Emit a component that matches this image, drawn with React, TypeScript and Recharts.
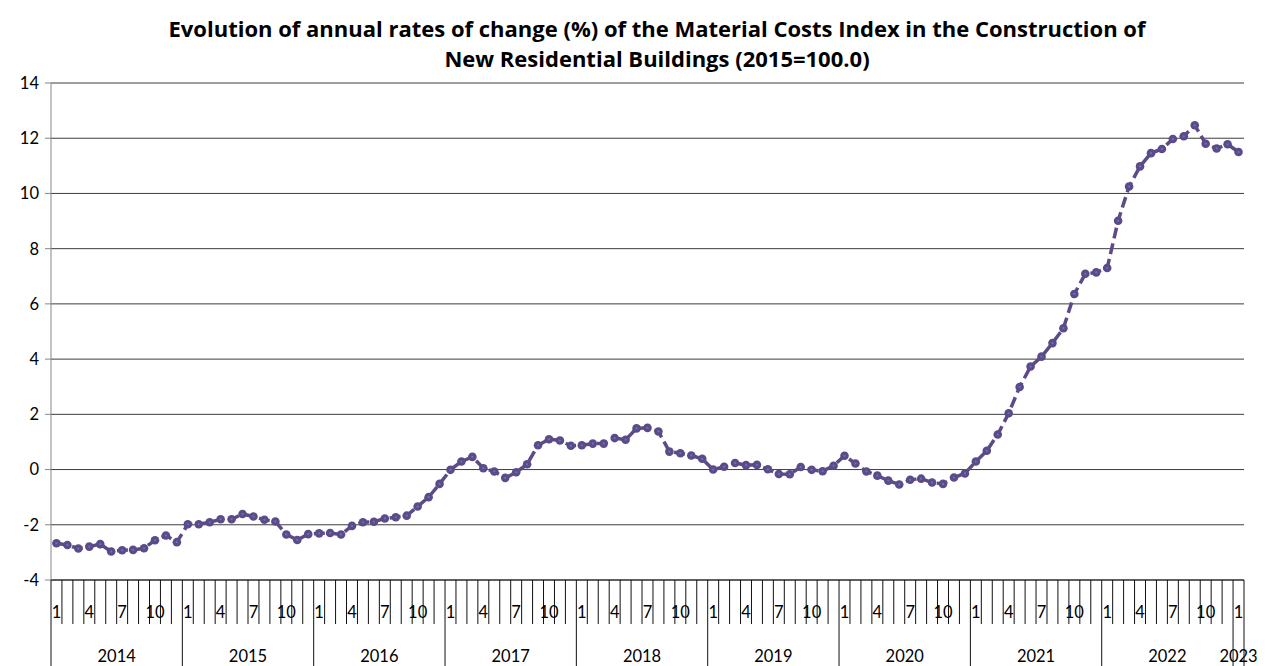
import { LineChart, Line, CartesianGrid, XAxis, YAxis } from 'recharts'

// annual rate of change (%) per month, Jan..Dec
const rate2014 = [-2.67, -2.73, -2.86, -2.79, -2.7, -2.97, -2.92, -2.91, -2.85, -2.56, -2.39, -2.63]
const rate2015 = [-1.98, -1.98, -1.91, -1.8, -1.8, -1.61, -1.7, -1.82, -1.88, -2.35, -2.55, -2.34]
const rate2016 = [-2.31, -2.3, -2.35, -2.04, -1.91, -1.89, -1.77, -1.73, -1.67, -1.34, -1.0, -0.52]
const rate2017 = [-0.01, 0.29, 0.46, 0.05, -0.07, -0.3, -0.1, 0.19, 0.88, 1.1, 1.05, 0.86]
const rate2018 = [0.88, 0.94, 0.94, 1.14, 1.08, 1.49, 1.51, 1.38, 0.65, 0.59, 0.51, 0.39]
const rate2019 = [0.0, 0.1, 0.24, 0.16, 0.17, 0.01, -0.16, -0.17, 0.09, -0.01, -0.06, 0.14]
const rate2020 = [0.5, 0.22, -0.07, -0.22, -0.4, -0.54, -0.37, -0.33, -0.47, -0.52, -0.29, -0.14]
const rate2021 = [0.29, 0.68, 1.27, 2.04, 2.99, 3.73, 4.09, 4.58, 5.12, 6.36, 7.09, 7.14]
const rate2022 = [7.3, 9.01, 10.25, 10.98, 11.46, 11.61, 11.97, 12.07, 12.47, 11.8, 11.63, 11.78]
const rate2023 = [11.5]

const years = ['2014', '2015', '2016', '2017', '2018', '2019', '2020', '2021', '2022', '2023']
const ratesByYear = [rate2014, rate2015, rate2016, rate2017, rate2018, rate2019, rate2020, rate2021, rate2022, rate2023]
const labelledMonths = [1, 4, 7, 10]
const yTicks = [-4, -2, 0, 2, 4, 6, 8, 10, 12, 14]

const title1 = 'Evolution of annual rates of change (%) of the Material Costs Index in the Construction of'
const title2 = 'New Residential Buildings (2015=100.0)'

const LINE = '#5D4A88'
const FONT = 'Lato, "Noto Sans", sans-serif'
const TITLE_FONT = '"Open Sans", "Noto Sans", sans-serif'

type Row = { t: number; month: number; year: string; rate: number }

const data: Row[] = []
ratesByYear.forEach((vals, yi) => {
  vals.forEach((rate, mi) => {
    data.push({ t: data.length, month: mi + 1, year: years[yi], rate })
  })
})

const n = data.length
const monthLabelAt = new Map<number, string>()
data.forEach((d) => {
  if (labelledMonths.includes(d.month)) monthLabelAt.set(d.t, String(d.month))
})
const monthBounds = Array.from({ length: n + 1 }, (_, i) => i - 0.5)

const yearLabelAt = new Map<number, string>()
const yearBounds: number[] = [-0.5]
let start = 0
ratesByYear.forEach((vals, yi) => {
  const end = start + vals.length
  yearLabelAt.set((start + end - 1) / 2, years[yi])
  yearBounds.push(end - 0.5)
  start = end
})

const MonthTick = (props: any) => {
  const { x, y, payload } = props
  const label = monthLabelAt.get(payload.value)
  if (label !== undefined && !monthBounds.includes(payload.value)) {
    return (
      <text x={x} y={y + 38} textAnchor="middle" fontSize={16.5} fontFamily={FONT} fill="#000">
        {label}
      </text>
    )
  }
  return <line x1={x} x2={x} y1={y} y2={y + 44} stroke="#111" strokeWidth={1} />
}

const YearTick = (props: any) => {
  const { x, y, payload } = props
  const label = yearLabelAt.get(payload.value)
  if (label !== undefined) {
    return (
      <text x={x} y={y + 38} textAnchor="middle" fontSize={16.5} fontFamily={FONT} fill="#000">
        {label}
      </text>
    )
  }
  return <line x1={x} x2={x} y1={y} y2={y + 42} stroke="#111" strokeWidth={1} />
}

const Marker = (props: any) => {
  const { cx, cy, index } = props
  if (cx == null || cy == null) return <g key={`m${index}`} />
  return (
    <g key={`m${index}`}>
      <circle cx={cx} cy={cy} r={4.3} fill={LINE} />
      <circle cx={cx} cy={cy} r={1.1} fill="#4F81BD" />
    </g>
  )
}

export default function App() {
  return (
    <div style={{ position: 'absolute', left: 0, top: 0, width: 1265, height: 666, background: '#fff' }}>
      <div
        style={{
          position: 'absolute',
          left: 0,
          top: 13,
          width: 1265,
          paddingLeft: 49,
          boxSizing: 'border-box',
          textAlign: 'center',
          fontFamily: TITLE_FONT,
          fontWeight: 700,
          fontSize: 22,
          lineHeight: '30px',
          color: '#000',
        }}
      >
        <div>{title1}</div>
        <div>{title2}</div>
      </div>
      <LineChart width={1265} height={666} data={data} margin={{ top: 83, right: 21, bottom: 0, left: 0 }}>
        <CartesianGrid vertical={false} stroke="#3c3c3c" xAxisId="m" />
        <XAxis
          xAxisId="m"
          dataKey="t"
          type="number"
          domain={[-0.5, n - 0.5]}
          ticks={[...monthBounds, ...Array.from(monthLabelAt.keys())]}
          interval={0}
          tickLine={false}
          tickSize={0}
          tickMargin={0}
          height={44}
          axisLine={{ stroke: '#222' }}
          tick={<MonthTick />}
        />
        <XAxis
          xAxisId="y"
          dataKey="t"
          type="number"
          domain={[-0.5, n - 0.5]}
          ticks={[...yearBounds, ...Array.from(yearLabelAt.keys())]}
          interval={0}
          tickLine={false}
          tickSize={0}
          tickMargin={0}
          height={42}
          axisLine={false}
          tick={<YearTick />}
        />
        <YAxis
          domain={[-4, 14]}
          ticks={yTicks}
          interval={0}
          width={51}
          tickSize={6}
          tickMargin={6}
          axisLine={{ stroke: '#868686' }}
          tickLine={{ stroke: '#868686' }}
          tick={{ fontSize: 16.5, fontFamily: FONT, fill: '#000' }}
        />
        <Line
          xAxisId="m"
          type="linear"
          dataKey="rate"
          stroke={LINE}
          strokeWidth={3.5}
          strokeDasharray="11 5"
          dot={Marker}
          activeDot={false}
          isAnimationActive={false}
        />
      </LineChart>
    </div>
  )
}
